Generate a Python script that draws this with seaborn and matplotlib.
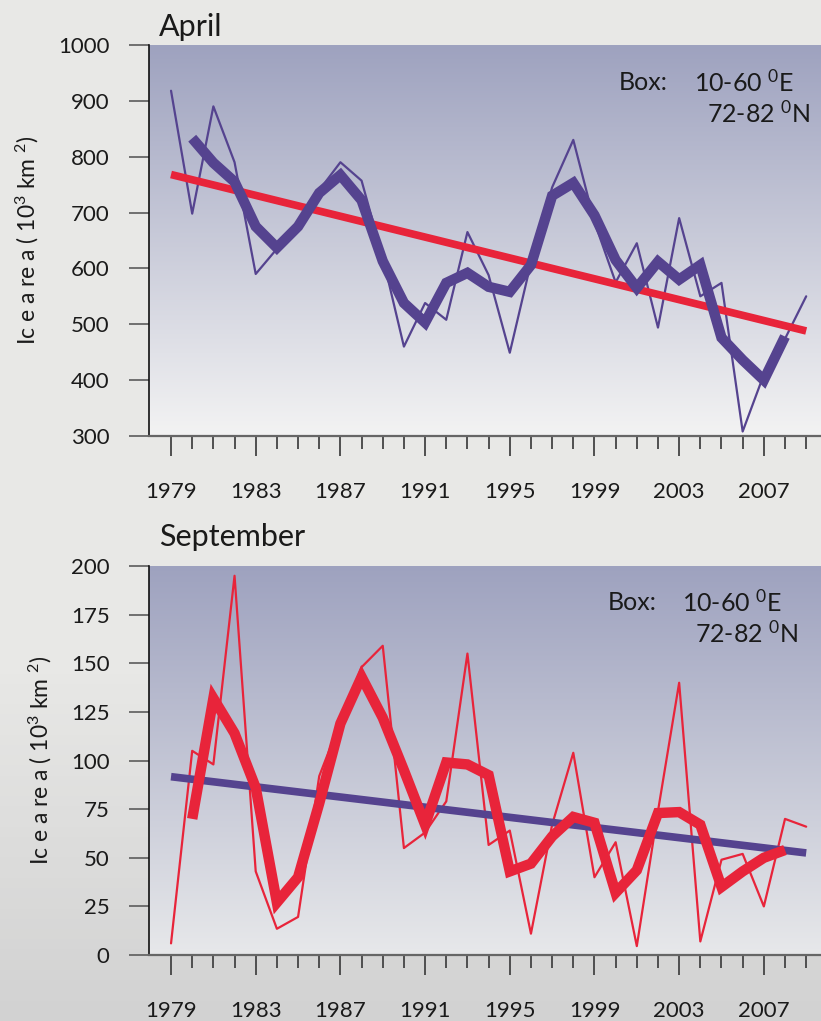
"""
Barents Sea ice area, April and September, 1979-2009
"""

import numpy as np
import matplotlib
matplotlib.use('Agg')
import matplotlib.pyplot as plt
from matplotlib.colors import LinearSegmentedColormap
import seaborn as sns

# Data
YEARS = list(range(1979, 2010))
SMOOTH_YEARS = list(range(1980, 2009))
TREND_YEARS = [1979, 2009]

APR_ICE = [918, 698, 890, 790, 590, 635, 673, 740, 790, 757, 620, 460, 538, 508,
           665, 588, 449, 610, 745, 830, 683, 575, 645, 494, 690, 550, 574, 308,
           410, 474, 550]
APR_SMOOTH = [833, 789, 755, 675, 637, 675, 735, 767, 722, 613, 538, 503, 574, 592,
              567, 558, 606, 730, 753, 695, 615, 565, 612, 580, 606, 476, 436, 400, 478]
APR_TREND = [768, 488]

SEP_ICE = [6, 105, 98, 195, 43, 13.5, 19.6, 92, 120, 148, 159, 55, 63, 79, 155,
           56.6, 64, 11, 67, 104, 40, 58, 4.6, 74, 140, 7, 49, 52, 25, 70, 66]
SEP_SMOOTH = [70, 132, 114, 86, 27, 40, 78, 119, 143, 122, 95, 67, 99, 98, 92.5,
              43, 47, 61, 71, 68, 32, 43.6, 73, 73.5, 67, 35, 43, 50, 54]
SEP_TREND = [91.7, 52.5]

APR_YTICKS = [300, 400, 500, 600, 700, 800, 900, 1000]
SEP_YTICKS = [0, 25, 50, 75, 100, 125, 150, 175, 200]
XTICK_LABELS = list(range(1979, 2009, 4))

PURPLE = '#55438f'
RED = '#e8243a'
FONT = 'Lato'
TXT = '#1a1a1a'

sns.set_style('ticks')
plt.rcParams['font.family'] = [FONT, 'DejaVu Sans']
plt.rcParams['mathtext.fontset'] = 'custom'
plt.rcParams['mathtext.rm'] = FONT
plt.rcParams['mathtext.it'] = FONT
plt.rcParams['mathtext.default'] = 'regular'

fig = plt.figure(figsize=(8.21, 10.21), dpi=100)

# figure background: flat light gray, a bit darker toward the bottom
bg = fig.add_axes([0, 0, 1, 1], zorder=-10)
bg_vals = np.concatenate([np.zeros(65), np.linspace(0, 1, 35)])[:, None]
bg_cmap = LinearSegmentedColormap.from_list('bg', ['#e8e8e6', '#d2d2d2'])
bg.imshow(bg_vals, aspect='auto', cmap=bg_cmap, extent=[0, 1, 0, 1], origin='upper')
bg.set_axis_off()


def draw_panel(rect, ice, smooth, trend, thin_color, trend_color, ylim, yticks,
               title, title_y, box_pos, bottom_color):
    ax = fig.add_axes(rect)
    cmap = LinearSegmentedColormap.from_list('grad', ['#9ea2bf', bottom_color])
    ax.imshow(np.linspace(0, 1, 256)[:, None], aspect='auto', cmap=cmap,
              extent=[1977.96, 2009.7, ylim[0], ylim[1]], origin='upper', zorder=0)

    sns.lineplot(x=YEARS, y=ice, ax=ax, color=thin_color, linewidth=1.6, zorder=3)
    sns.lineplot(x=TREND_YEARS, y=trend, ax=ax, color=trend_color, linewidth=5.5,
                 zorder=4, solid_capstyle='butt')
    sns.lineplot(x=SMOOTH_YEARS, y=smooth, ax=ax, color=thin_color, linewidth=7.5,
                 zorder=5, solid_capstyle='butt', solid_joinstyle='miter')

    ax.set_xlim(1977.96, 2009.7)
    ax.set_ylim(*ylim)
    ax.set_yticks(yticks)
    ax.set_yticklabels([str(t) for t in yticks], fontsize=16)
    ax.set_xticks(XTICK_LABELS)
    ax.set_xticklabels([str(t) for t in XTICK_LABELS], fontsize=16)
    ax.set_xticks([y for y in YEARS if y not in XTICK_LABELS], minor=True)
    ax.tick_params(axis='y', length=14.4, width=1.3, color='#666666', pad=14,
                   labelcolor=TXT)
    ax.tick_params(axis='x', which='major', length=14.4, width=1.3, color='#444444',
                   pad=19, labelcolor=TXT)
    ax.tick_params(axis='x', which='minor', length=9.4, width=1.3, color='#444444')

    for side in ['top', 'right']:
        ax.spines[side].set_visible(False)
    ax.spines['left'].set_color('#111111')
    ax.spines['left'].set_linewidth(1.2)
    ax.spines['bottom'].set_color('#666666')
    ax.spines['bottom'].set_linewidth(1.6)

    ax.set_ylabel('Ic e a re a ( 10$^3$ km $^2$)', fontsize=16.5, color=TXT,
                  labelpad=12)
    ax.text(0.015, title_y, title, transform=ax.transAxes, fontsize=22,
            va='baseline', ha='left', color=TXT)

    bx, ex1, ex2, y1, y2 = box_pos
    ax.text(bx, y1, 'Box:', transform=ax.transAxes, fontsize=18,
            va='center', ha='left', color=TXT, zorder=6)
    ax.text(ex1, y1, '10-60 $^0$E', transform=ax.transAxes, fontsize=18,
            va='center', ha='right', color=TXT, zorder=6)
    ax.text(ex2, y2, '72-82 $^0$N', transform=ax.transAxes, fontsize=18,
            va='center', ha='right', color=TXT, zorder=6)
    return ax


draw_panel([0.1815, 0.573, 0.8185, 0.383], APR_ICE, APR_SMOOTH, APR_TREND,
           PURPLE, RED, (300, 1000), APR_YTICKS, 'April', 1.023,
           (0.699, 0.96, 0.984, 0.905, 0.826), '#f3f3f3')
draw_panel([0.1815, 0.0646, 0.8185, 0.381], SEP_ICE, SEP_SMOOTH, SEP_TREND,
           RED, PURPLE, (0, 200), SEP_YTICKS, 'September', 1.051,
           (0.683, 0.942, 0.966, 0.907, 0.828), '#e7e8ea')

fig.savefig('out.png', dpi=100)
plt.close(fig)
